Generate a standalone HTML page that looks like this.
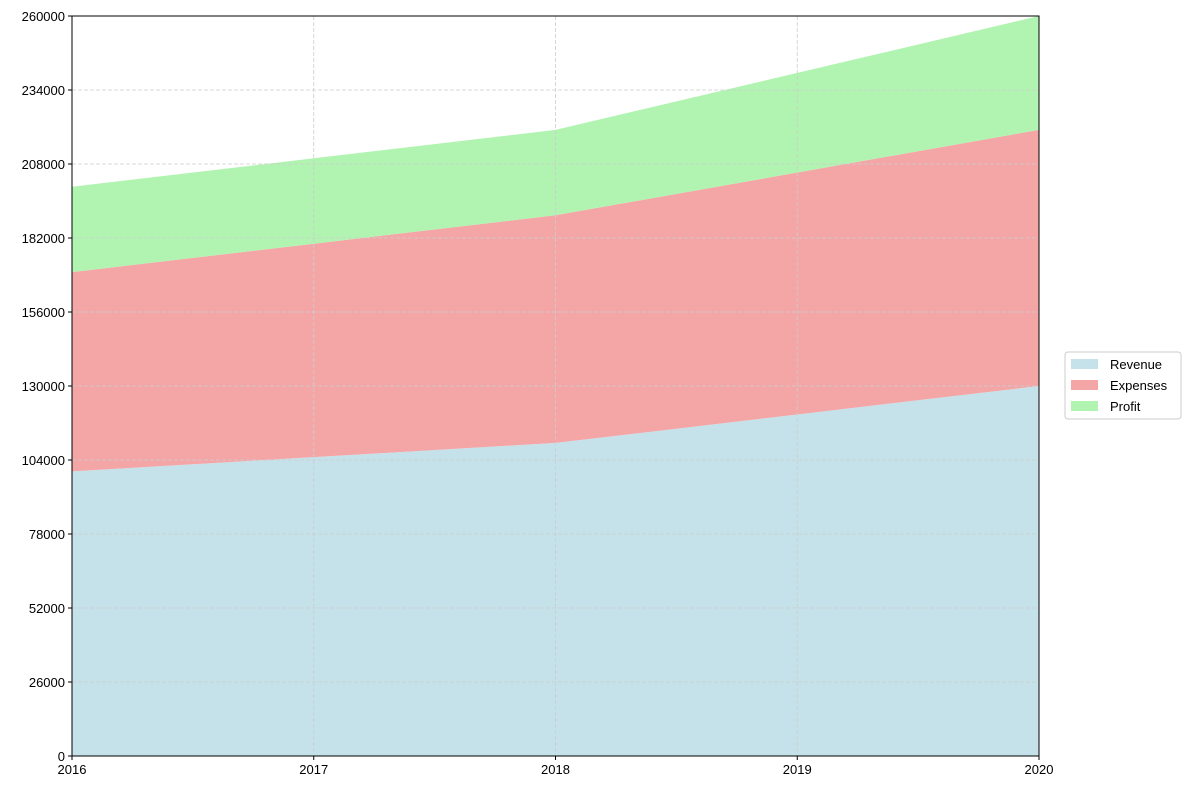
<!DOCTYPE html>
<html><head><meta charset="utf-8"><style>
body{margin:0;background:#fff;font-family:"Liberation Sans",sans-serif;}
svg text{font-family:"Liberation Sans",sans-serif;font-size:13px;fill:#000;}
</style></head><body>
<svg id="chart" width="1190" height="790" xmlns="http://www.w3.org/2000/svg"></svg>
<script>
const years = [2016, 2017, 2018, 2019, 2020];
const revenue = [100000, 105000, 110000, 120000, 130000];
const expenses = [70000, 75000, 80000, 85000, 90000];
const profit = [30000, 30000, 30000, 35000, 40000];
const yTicks = [0, 26000, 52000, 78000, 104000, 130000, 156000, 182000, 208000, 234000, 260000];
const seriesNames = ["Revenue", "Expenses", "Profit"];

const NS = "http://www.w3.org/2000/svg";
const svg = document.getElementById("chart");
const L = 72, R = 1039, T = 16, B = 756;
const yMax = 260000;
const x = i => L + (R - L) * (years[i] - years[0]) / (years[years.length - 1] - years[0]);
const y = v => B - (B - T) * v / yMax;
function mk(tag, attrs) { const e = document.createElementNS(NS, tag); for (const k in attrs) e.setAttribute(k, attrs[k]); svg.appendChild(e); return e; }

const colors = ["#c5e2eb", "#f4a6a6", "#b1f4b1"];
const series = [revenue, expenses, profit];
let base = years.map(() => 0);
series.forEach((s, si) => {
  const top = base.map((b, i) => b + s[i]);
  let pts = top.map((v, i) => x(i) + "," + y(v));
  for (let i = years.length - 1; i >= 0; i--) pts.push(x(i) + "," + y(base[i]));
  const p = mk("polygon", { points: pts.join(" "), fill: colors[si] });
  
  
  base = top;
});

// grid
yTicks.forEach(t => {
  const g = mk("line", { x1: L, x2: R, y1: y(t), y2: y(t), stroke: "#cccccc", "stroke-width": 0.8, "stroke-dasharray": "4,2" });
  
  
});
years.forEach((yr, i) => {
  const g = mk("line", { x1: x(i), x2: x(i), y1: T, y2: B, stroke: "#cccccc", "stroke-width": 0.8, "stroke-dasharray": "4,2" });
  
  
});

// frame
const fr = mk("rect", { x: L, y: T, width: R - L, height: B - T, fill: "none", stroke: "#000", "stroke-width": 1 });



// ticks
yTicks.forEach(t => {
  const tk = mk("line", { x1: L - 4, x2: L, y1: y(t), y2: y(t), stroke: "#000" });
  
  
  const tx = mk("text", { x: L - 7, y: y(t) + 5, "text-anchor": "end" });
  tx.textContent = t;
  
  
});
years.forEach((yr, i) => {
  const tk = mk("line", { x1: x(i), x2: x(i), y1: B, y2: B + 4, stroke: "#000" });
  
  
  const tx = mk("text", { x: x(i), y: B + 18, "text-anchor": "middle" });
  tx.textContent = yr;
  
  
});

// legend
const lg = mk("rect", { x: 1065, y: 352, width: 116, height: 67, fill: "#fff", stroke: "#cccccc", rx: 3 });


seriesNames.forEach((n, i) => {
  const sw = mk("rect", { x: 1071, y: 359 + i * 21, width: 27, height: 10, fill: colors[i] });
  
  
  const t = mk("text", { x: 1110, y: 369 + i * 21 });
  t.textContent = n;
  
  
});
</script>
</body></html>
